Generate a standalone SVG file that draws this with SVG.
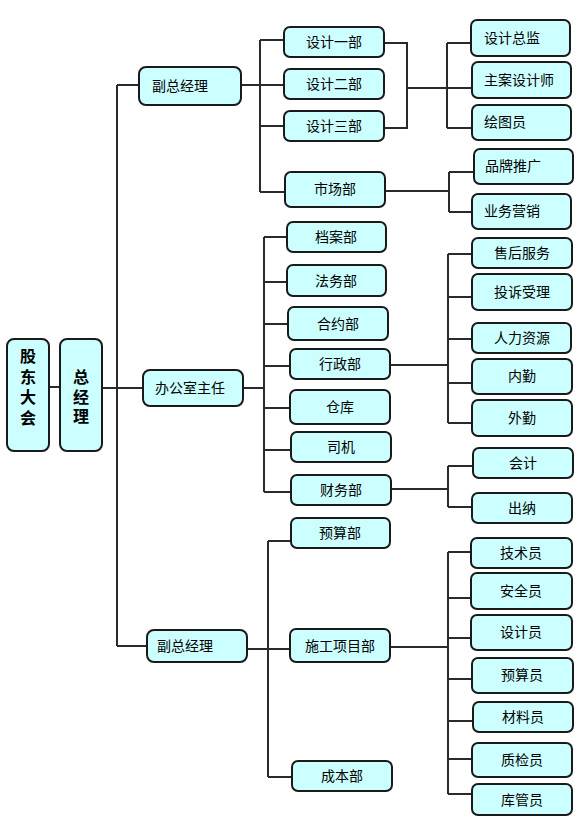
<svg xmlns="http://www.w3.org/2000/svg" width="583" height="839" viewBox="0 0 583 839">
<style>
.n rect{fill:#ccffff;stroke:#1a1a1a;stroke-width:2}
.n text{font-family:"Noto Sans CJK SC","Noto Sans",sans-serif;font-size:14px;fill:#000;text-anchor:middle}
.n text.l{text-anchor:start}
.n text.v{font-size:16px;font-weight:bold;writing-mode:vertical-rl;text-anchor:start}
#connectors path{fill:none;stroke:#2a2a2a;stroke-width:2}
</style>
<rect width="583" height="839" fill="#fff"/>
<g id="connectors">
<path d="M49,387H60M102,388H143M117,85V646M117,85H139M117,646H147"/>
<path d="M241,85H284M260,40V192M260,40H284M260,126H284M260,192H285"/>
<path d="M384,43H407V128H384M407,88H447M447,43V128M447,43H471M447,88H472M447,128H472"/>
<path d="M385,191H449M449,172V212M449,172H474M449,212H472"/>
<path d="M243,388H264M264,237V492M264,237H287M264,282H287M264,324H288M264,366H290M264,408H290M264,450H291M264,492H291"/>
<path d="M390,365H448M448,254V423M448,254H472M448,297H472M448,339H472M448,383H472M448,423H472"/>
<path d="M391,489H448M448,466V507M448,466H473M448,507H472"/>
<path d="M247,649H290M268,541V777M268,541H291M268,777H292"/>
<path d="M390,647H448M448,552V794M448,552H471M448,598H471M448,638H471M448,679H472M448,721H473M448,759H472M448,794H472"/>
</g>
<g id="n-gudong" class="n"><rect x="7" y="339" width="42" height="112" rx="7"/><text class="v" x="28" y="348" letter-spacing="4.5">股东大会</text></g>
<g id="n-zongjingli" class="n"><rect x="60" y="339" width="42" height="112" rx="7"/><text class="v" x="81" y="369" letter-spacing="3.5">总经理</text></g>
<g id="n-fuzong1" class="n"><rect x="139" y="67" width="102" height="38" rx="7"/><text class="l" x="152" y="91">副总经理</text></g>
<g id="n-bangong" class="n"><rect x="143" y="370" width="100" height="36" rx="7"/><text class="l" x="155" y="393">办公室主任</text></g>
<g id="n-fuzong2" class="n"><rect x="147" y="630" width="100" height="32" rx="7"/><text class="l" x="157" y="651">副总经理</text></g>
<g id="n-sheji1" class="n"><rect x="284" y="27" width="100" height="30" rx="6"/><text x="334" y="47">设计一部</text></g>
<g id="n-sheji2" class="n"><rect x="284" y="69" width="100" height="30" rx="6"/><text x="334" y="89">设计二部</text></g>
<g id="n-sheji3" class="n"><rect x="284" y="111" width="100" height="30" rx="6"/><text x="334" y="131">设计三部</text></g>
<g id="n-shichang" class="n"><rect x="285" y="172" width="100" height="35" rx="6"/><text x="335" y="194">市场部</text></g>
<g id="n-zongjian" class="n"><rect x="471" y="20" width="99" height="36" rx="6"/><text class="l" x="484" y="43">设计总监</text></g>
<g id="n-zhuan" class="n"><rect x="472" y="62" width="99" height="36" rx="6"/><text class="l" x="484" y="85">主案设计师</text></g>
<g id="n-huitu" class="n"><rect x="472" y="105" width="99" height="35" rx="6"/><text class="l" x="484" y="127">绘图员</text></g>
<g id="n-pinpai" class="n"><rect x="474" y="149" width="99" height="35" rx="6"/><text class="l" x="485" y="171">品牌推广</text></g>
<g id="n-yewu" class="n"><rect x="472" y="194" width="99" height="35" rx="6"/><text class="l" x="484" y="216">业务营销</text></g>
<g id="n-dangan" class="n"><rect x="287" y="222" width="99" height="30" rx="6"/><text x="336" y="242">档案部</text></g>
<g id="n-fawu" class="n"><rect x="287" y="265" width="99" height="31" rx="6"/><text x="336" y="286">法务部</text></g>
<g id="n-heyue" class="n"><rect x="288" y="307" width="100" height="33" rx="6"/><text x="338" y="329">合约部</text></g>
<g id="n-xingzheng" class="n"><rect x="290" y="349" width="100" height="30" rx="6"/><text x="340" y="369">行政部</text></g>
<g id="n-cangku" class="n"><rect x="290" y="390" width="100" height="34" rx="6"/><text x="340" y="412">仓库</text></g>
<g id="n-siji" class="n"><rect x="291" y="432" width="100" height="30" rx="6"/><text x="341" y="452">司机</text></g>
<g id="n-caiwu" class="n"><rect x="291" y="475" width="100" height="30" rx="6"/><text x="341" y="495">财务部</text></g>
<g id="n-shouhou" class="n"><rect x="472" y="238" width="100" height="30" rx="6"/><text x="522" y="258">售后服务</text></g>
<g id="n-tousu" class="n"><rect x="472" y="274" width="100" height="36" rx="6"/><text x="522" y="297">投诉受理</text></g>
<g id="n-renli" class="n"><rect x="472" y="323" width="99" height="30" rx="6"/><text x="522" y="343">人力资源</text></g>
<g id="n-neiqin" class="n"><rect x="472" y="359" width="100" height="35" rx="6"/><text x="522" y="381">内勤</text></g>
<g id="n-waiqin" class="n"><rect x="472" y="400" width="100" height="36" rx="6"/><text x="522" y="423">外勤</text></g>
<g id="n-kuaiji" class="n"><rect x="473" y="448" width="100" height="30" rx="6"/><text x="523" y="468">会计</text></g>
<g id="n-chuna" class="n"><rect x="472" y="493" width="100" height="30" rx="6"/><text x="522" y="513">出纳</text></g>
<g id="n-yusuan" class="n"><rect x="291" y="518" width="99" height="30" rx="6"/><text x="340" y="538">预算部</text></g>
<g id="n-shigong" class="n"><rect x="290" y="629" width="100" height="33" rx="6"/><text x="340" y="651">施工项目部</text></g>
<g id="n-chengben" class="n"><rect x="292" y="761" width="100" height="30" rx="6"/><text x="342" y="781">成本部</text></g>
<g id="n-jishu" class="n"><rect x="471" y="538" width="101" height="30" rx="6"/><text x="521" y="558">技术员</text></g>
<g id="n-anquan" class="n"><rect x="471" y="573" width="101" height="36" rx="6"/><text x="521" y="596">安全员</text></g>
<g id="n-shejiyuan" class="n"><rect x="471" y="615" width="101" height="35" rx="6"/><text x="521" y="637">设计员</text></g>
<g id="n-yusuanyuan" class="n"><rect x="472" y="658" width="101" height="35" rx="6"/><text x="522" y="680">预算员</text></g>
<g id="n-cailiao" class="n"><rect x="473" y="702" width="100" height="30" rx="6"/><text x="523" y="722">材料员</text></g>
<g id="n-zhijian" class="n"><rect x="472" y="743" width="100" height="34" rx="6"/><text x="522" y="765">质检员</text></g>
<g id="n-kuguan" class="n"><rect x="472" y="784" width="100" height="31" rx="6"/><text x="522" y="805">库管员</text></g>
</svg>
